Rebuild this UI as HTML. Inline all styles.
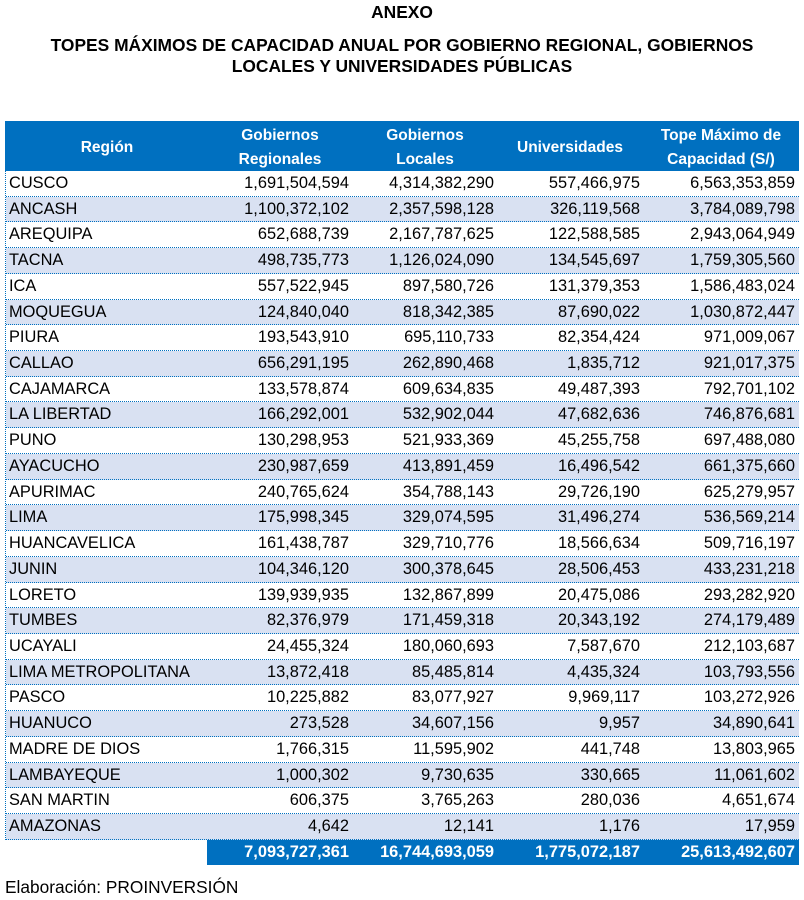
<!DOCTYPE html>
<html><head><meta charset="utf-8">
<style>
*{margin:0;padding:0;box-sizing:border-box}
html,body{width:804px;height:900px;background:#fff;overflow:hidden}
body{position:relative;font-family:"Liberation Sans",Arial,sans-serif;color:#000}
.t{position:absolute;left:0;width:804px;text-align:center;font-weight:bold;font-size:17.4px;line-height:20px;white-space:nowrap}
.hdr{position:absolute;left:5px;top:121px;width:794px;height:50px;background:#0070C0;color:#fff;font-weight:bold;font-size:15.5px}
.hdr div{position:absolute;text-align:center;line-height:24px;white-space:nowrap}
.body{position:absolute;left:5px;top:171px;width:794px;border-left:1px dotted #0070C0}
.r{position:relative;height:25.73px;border-bottom:1px dotted #0070C0;font-size:16.4px}
.r.s{background:#D9E1F2}
.r span{position:absolute;top:0;line-height:25px;white-space:nowrap}
.r .n{left:3px}
.r .a{right:450px}
.r .b{right:305px}
.r .c{right:159px}
.r .d{right:4px}
.tot{position:absolute;left:207px;top:840px;width:592px;height:25px;background:#0070C0;color:#fff;font-weight:bold;font-size:16.4px;border-bottom:1px dotted #0070C0}
.tot span{position:absolute;top:0;line-height:25px;white-space:nowrap}
.foot{position:absolute;left:5px;top:877px;font-size:17.3px;line-height:20px;white-space:nowrap}
</style></head><body>
<div class="t" style="top:2px">ANEXO</div>
<div class="t" style="top:35px">TOPES MÁXIMOS DE CAPACIDAD ANUAL POR GOBIERNO REGIONAL, GOBIERNOS</div>
<div class="t" style="top:56px">LOCALES Y UNIVERSIDADES PÚBLICAS</div>

<div class="hdr">
<div style="left:52px;width:100px;top:15px">Región</div>
<div style="left:175px;width:200px;top:3px">Gobiernos<br>Regionales</div>
<div style="left:320px;width:200px;top:3px">Gobiernos<br>Locales</div>
<div style="left:465px;width:200px;top:15px">Universidades</div>
<div style="left:616px;width:200px;top:3px">Tope Máximo de<br>Capacidad (S/)</div>
</div>

<div class="body">
<div class="r"><span class="n">CUSCO</span><span class="a">1,691,504,594</span><span class="b">4,314,382,290</span><span class="c">557,466,975</span><span class="d">6,563,353,859</span></div>
<div class="r s"><span class="n">ANCASH</span><span class="a">1,100,372,102</span><span class="b">2,357,598,128</span><span class="c">326,119,568</span><span class="d">3,784,089,798</span></div>
<div class="r"><span class="n">AREQUIPA</span><span class="a">652,688,739</span><span class="b">2,167,787,625</span><span class="c">122,588,585</span><span class="d">2,943,064,949</span></div>
<div class="r s"><span class="n">TACNA</span><span class="a">498,735,773</span><span class="b">1,126,024,090</span><span class="c">134,545,697</span><span class="d">1,759,305,560</span></div>
<div class="r"><span class="n">ICA</span><span class="a">557,522,945</span><span class="b">897,580,726</span><span class="c">131,379,353</span><span class="d">1,586,483,024</span></div>
<div class="r s"><span class="n">MOQUEGUA</span><span class="a">124,840,040</span><span class="b">818,342,385</span><span class="c">87,690,022</span><span class="d">1,030,872,447</span></div>
<div class="r"><span class="n">PIURA</span><span class="a">193,543,910</span><span class="b">695,110,733</span><span class="c">82,354,424</span><span class="d">971,009,067</span></div>
<div class="r s"><span class="n">CALLAO</span><span class="a">656,291,195</span><span class="b">262,890,468</span><span class="c">1,835,712</span><span class="d">921,017,375</span></div>
<div class="r"><span class="n">CAJAMARCA</span><span class="a">133,578,874</span><span class="b">609,634,835</span><span class="c">49,487,393</span><span class="d">792,701,102</span></div>
<div class="r s"><span class="n">LA LIBERTAD</span><span class="a">166,292,001</span><span class="b">532,902,044</span><span class="c">47,682,636</span><span class="d">746,876,681</span></div>
<div class="r"><span class="n">PUNO</span><span class="a">130,298,953</span><span class="b">521,933,369</span><span class="c">45,255,758</span><span class="d">697,488,080</span></div>
<div class="r s"><span class="n">AYACUCHO</span><span class="a">230,987,659</span><span class="b">413,891,459</span><span class="c">16,496,542</span><span class="d">661,375,660</span></div>
<div class="r"><span class="n">APURIMAC</span><span class="a">240,765,624</span><span class="b">354,788,143</span><span class="c">29,726,190</span><span class="d">625,279,957</span></div>
<div class="r s"><span class="n">LIMA</span><span class="a">175,998,345</span><span class="b">329,074,595</span><span class="c">31,496,274</span><span class="d">536,569,214</span></div>
<div class="r"><span class="n">HUANCAVELICA</span><span class="a">161,438,787</span><span class="b">329,710,776</span><span class="c">18,566,634</span><span class="d">509,716,197</span></div>
<div class="r s"><span class="n">JUNIN</span><span class="a">104,346,120</span><span class="b">300,378,645</span><span class="c">28,506,453</span><span class="d">433,231,218</span></div>
<div class="r"><span class="n">LORETO</span><span class="a">139,939,935</span><span class="b">132,867,899</span><span class="c">20,475,086</span><span class="d">293,282,920</span></div>
<div class="r s"><span class="n">TUMBES</span><span class="a">82,376,979</span><span class="b">171,459,318</span><span class="c">20,343,192</span><span class="d">274,179,489</span></div>
<div class="r"><span class="n">UCAYALI</span><span class="a">24,455,324</span><span class="b">180,060,693</span><span class="c">7,587,670</span><span class="d">212,103,687</span></div>
<div class="r s"><span class="n">LIMA METROPOLITANA</span><span class="a">13,872,418</span><span class="b">85,485,814</span><span class="c">4,435,324</span><span class="d">103,793,556</span></div>
<div class="r"><span class="n">PASCO</span><span class="a">10,225,882</span><span class="b">83,077,927</span><span class="c">9,969,117</span><span class="d">103,272,926</span></div>
<div class="r s"><span class="n">HUANUCO</span><span class="a">273,528</span><span class="b">34,607,156</span><span class="c">9,957</span><span class="d">34,890,641</span></div>
<div class="r"><span class="n">MADRE DE DIOS</span><span class="a">1,766,315</span><span class="b">11,595,902</span><span class="c">441,748</span><span class="d">13,803,965</span></div>
<div class="r s"><span class="n">LAMBAYEQUE</span><span class="a">1,000,302</span><span class="b">9,730,635</span><span class="c">330,665</span><span class="d">11,061,602</span></div>
<div class="r"><span class="n">SAN MARTIN</span><span class="a">606,375</span><span class="b">3,765,263</span><span class="c">280,036</span><span class="d">4,651,674</span></div>
<div class="r s"><span class="n">AMAZONAS</span><span class="a">4,642</span><span class="b">12,141</span><span class="c">1,176</span><span class="d">17,959</span></div>
</div>

<div class="tot">
<span style="right:450px">7,093,727,361</span>
<span style="right:305px">16,744,693,059</span>
<span style="right:159px">1,775,072,187</span>
<span style="right:4px">25,613,492,607</span>
</div>

<div class="foot">Elaboración: PROINVERSIÓN</div>
</body></html>
